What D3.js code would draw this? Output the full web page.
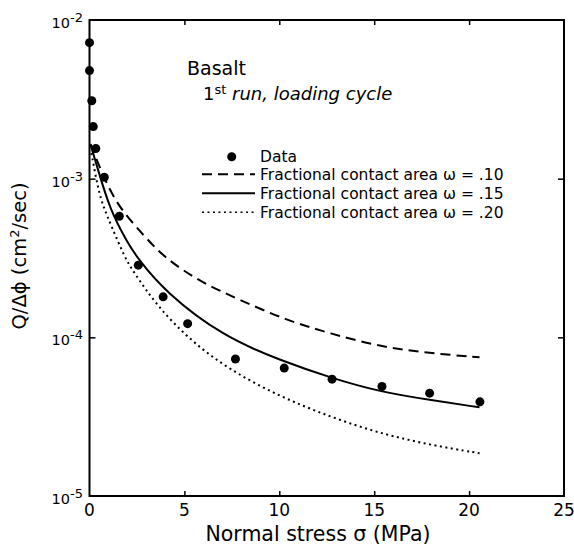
<!DOCTYPE html>
<html><head><meta charset="utf-8">
<script src="https://cdn.jsdelivr.net/npm/d3@7"></script>
<style>body{margin:0;background:#fff}svg{display:block}text{font-family:"DejaVu Sans",sans-serif;fill:#000}</style>
</head><body><svg id="c" width="574" height="547"></svg>
<script>
// Data
const dataX = [0.0, 0.0, 0.12, 0.2, 0.33, 0.78, 1.57, 2.57, 3.88, 5.17, 7.69, 10.26, 12.78, 15.41, 17.92, 20.57];
const dataY = [7.2e-3, 4.8e-3, 3.1e-3, 2.13e-3, 1.55e-3, 1.02e-3, 5.8e-4, 2.85e-4, 1.8e-4, 1.22e-4, 7.3e-5, 6.4e-5, 5.45e-5, 4.9e-5, 4.45e-5, 3.92e-5];

const w10X = [0.05, 0.78, 1.52, 2.92, 3.97, 5.82, 7.92, 10.38, 12.66, 15.29, 17.92, 20.55];
const w10Y = [1.65e-3, 1.0e-3, 6.65e-4, 4.3e-4, 3.16e-4, 2.24e-4, 1.72e-4, 1.28e-4, 1.06e-4, 8.73e-5, 7.94e-5, 7.48e-5];

const w15X = [0.05, 0.35, 1.08, 2.04, 2.55, 3.97, 7.04, 10.13, 12.78, 15.29, 17.92, 20.55];
const w15Y = [1.65e-3, 1.25e-3, 6.3e-4, 3.89e-4, 3.13e-4, 1.94e-4, 1.01e-4, 7.1e-5, 5.52e-5, 4.54e-5, 4.03e-5, 3.62e-5];

const w20X = [0.1, 0.46, 0.73, 1.17, 1.87, 2.31, 3.54, 5.29, 7.39, 10.03, 12.66, 15.29, 17.92, 20.55];
const w20Y = [1.45e-3, 8.5e-4, 6.65e-4, 4.98e-4, 3.16e-4, 2.6e-4, 1.585e-4, 9.6e-5, 6.22e-5, 4.23e-5, 3.16e-5, 2.48e-5, 2.1e-5, 1.86e-5];

const xTicks = [0, 5, 10, 15, 20, 25];
const yTicks = [1e-5, 1e-4, 1e-3, 1e-2];
const yTickExp = ["-5", "-4", "-3", "-2"];
const legendLabels = ["Data", "Fractional contact area  \u03c9 = .10", "Fractional contact area  \u03c9 = .15", "Fractional contact area  \u03c9 = .20"];

const svg = d3.select("#c");
const L = 89.5, R = 564, T = 20, B = 496;
const x = d3.scaleLinear().domain([0, 25]).range([L, R]);
const y = d3.scaleLog().domain([1e-5, 1e-2]).range([B, T]);

// frame
svg.append("rect").attr("x", L).attr("y", T).attr("width", R - L).attr("height", B - T)
  .attr("fill", "none").attr("stroke", "#000").attr("stroke-width", 2);

// axes (inward ticks)
const inner = xTicks.slice(1, -1);
const style = g => { g.select(".domain").remove(); g.selectAll("line").attr("stroke-width", 1.5); };
svg.append("g").attr("transform", `translate(0,${B})`)
  .call(d3.axisTop(x).tickValues(inner).tickSize(5).tickFormat("")).call(style);
svg.append("g").attr("transform", `translate(0,${T})`)
  .call(d3.axisBottom(x).tickValues(inner).tickSize(5).tickFormat("")).call(style);
const yInner = yTicks.slice(1, -1);
svg.append("g").attr("transform", `translate(${L},0)`)
  .call(d3.axisRight(y).tickValues(yInner).tickSize(6).tickFormat("")).call(style);
svg.append("g").attr("transform", `translate(${R},0)`)
  .call(d3.axisLeft(y).tickValues(yInner).tickSize(6).tickFormat("")).call(style);

// x tick labels
svg.append("g").selectAll("text").data(xTicks).join("text")
  .attr("x", d => x(d)).attr("y", 516).attr("text-anchor", "middle")
  .attr("font-size", 17).text(d => d);

// y tick labels
const yl = svg.append("g").selectAll("text").data(yTicks).join("text")
  .attr("x", 83).attr("y", d => y(d) + 8).attr("text-anchor", "end").attr("font-size", 14.5);
yl.append("tspan").text("10");
yl.append("tspan").attr("dy", -6).attr("font-size", 13).text((d, i) => yTickExp[i]);

// axis titles
svg.append("text").attr("x", 318).attr("y", 541).attr("text-anchor", "middle").attr("font-size", 20.5)
  .text("Normal stress \u03c3 (MPa)");
const yt = svg.append("text").attr("transform", "translate(26,256) rotate(-90)")
  .attr("text-anchor", "middle").attr("font-size", 19.5);
yt.append("tspan").text("Q/\u0394\u03d5 (cm");
yt.append("tspan").attr("dy", -7).attr("font-size", 13).text("2");
yt.append("tspan").attr("dy", 7).text("/sec)");

// annotation
svg.append("text").attr("x", 187).attr("y", 75).attr("font-size", 19).text("Basalt");
const an = svg.append("text").attr("x", 203).attr("y", 100).attr("font-size", 18);
an.append("tspan").text("1");
an.append("tspan").attr("dy", -6).attr("font-size", 13).text("st");
an.append("tspan").attr("dy", 6).attr("font-style", "italic").text(" run, loading cycle");

// curves
const line = d3.line().x(d => x(d[0])).y(d => y(d[1])).curve(d3.curveBasis);
const curves = [
  { xs: w10X, ys: w10Y, dash: "10,6" },
  { xs: w15X, ys: w15Y, dash: null },
  { xs: w20X, ys: w20Y, dash: "2,3.5" }
];
curves.forEach(c => {
  svg.append("path").datum(c.xs.map((v, i) => [v, c.ys[i]]))
    .attr("d", line).attr("fill", "none").attr("stroke", "#000").attr("stroke-width", 2)
    .attr("stroke-dasharray", c.dash);
});

// data points
svg.append("g").selectAll("circle").data(dataX.map((v, i) => [v, dataY[i]])).join("circle")
  .attr("cx", d => x(d[0])).attr("cy", d => y(d[1])).attr("r", 4.5).attr("fill", "#000");

// legend
const lg = svg.append("g");
const rowsY = [156.7, 174.3, 193.3, 212.3];
lg.append("circle").attr("cx", 231.7).attr("cy", rowsY[0]).attr("r", 4.5).attr("fill", "#000");
[1, 2, 3].forEach(i => {
  lg.append("line").attr("x1", 202).attr("x2", 255).attr("y1", rowsY[i]).attr("y2", rowsY[i])
    .attr("stroke", "#000").attr("stroke-width", i === 3 ? 1.5 : 2)
    .attr("stroke-dasharray", curves[i - 1].dash);
});
lg.selectAll("text").data(legendLabels).join("text")
  .attr("x", 260).attr("y", (d, i) => rowsY[i] + 5.5).attr("font-size", 15.5).text(d => d);
</script></body></html>
